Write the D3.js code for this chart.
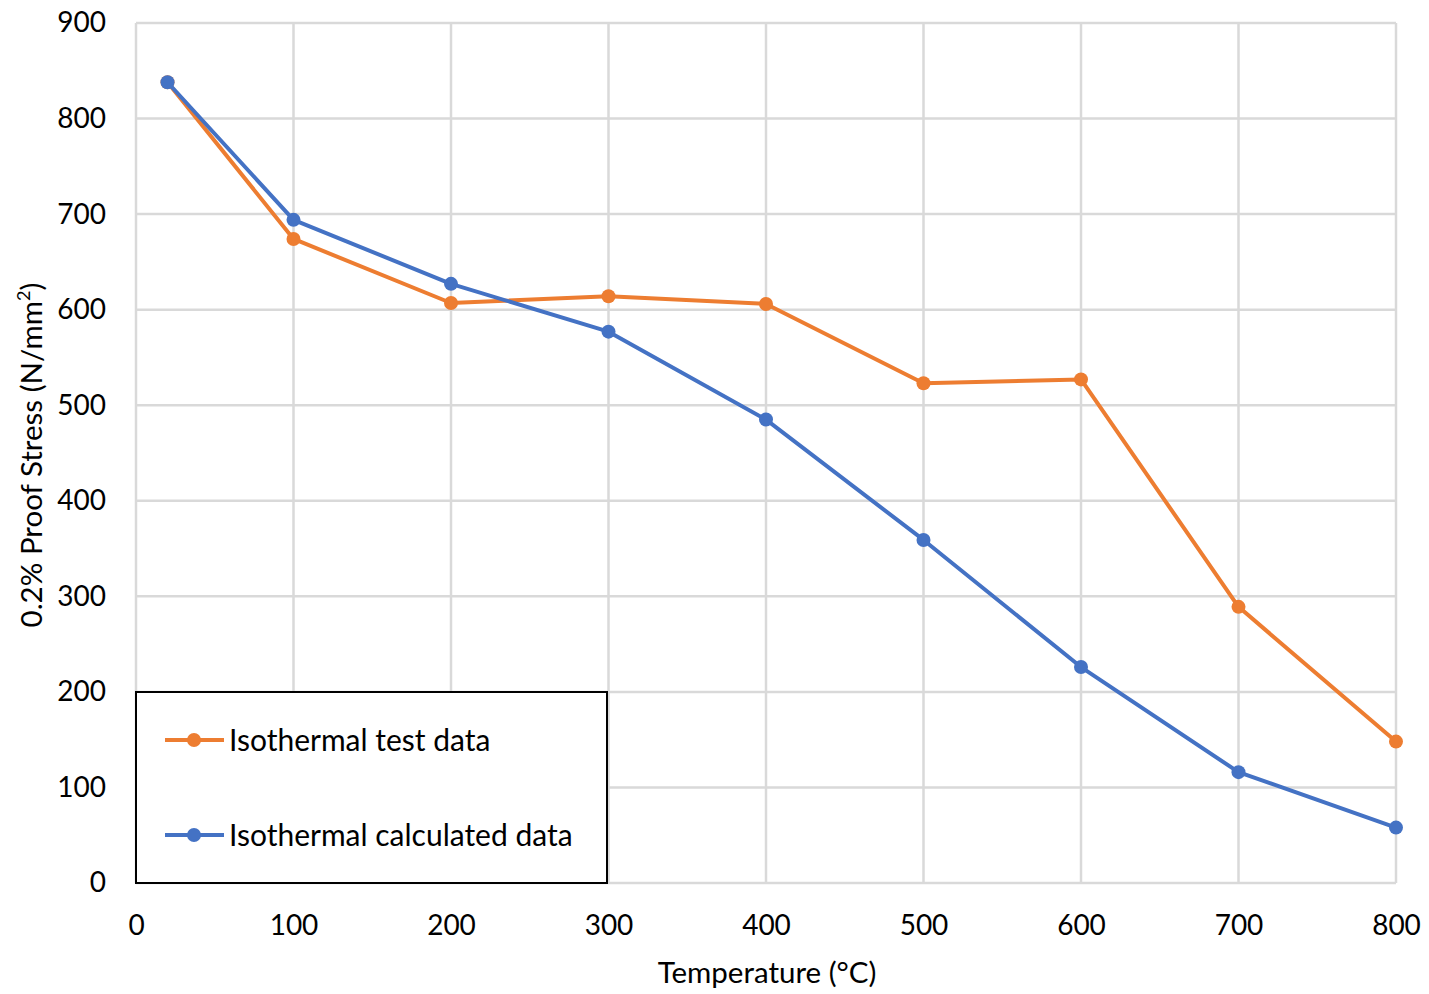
<!DOCTYPE html>
<html>
<head>
<meta charset="utf-8">
<script src="https://cdn.jsdelivr.net/npm/d3@7"></script>
<style>
  html, body { margin: 0; padding: 0; background: #fff; }
  svg text { font-family: Lato, "Open Sans", sans-serif; fill: #000; }
</style>
</head>
<body>
<svg id="chart" width="1429" height="994"></svg>
<script>
// Temperatures (°C)
const temperatures = [20, 100, 200, 300, 400, 500, 600, 700, 800];
// 0.2% proof stress, N/mm²
const testData = [838, 674, 607, 614, 606, 523, 527, 289, 148];
const calculatedData = [838, 694, 627, 577, 485, 359, 226, 116, 58];
const xTicks = [0, 100, 200, 300, 400, 500, 600, 700, 800];
const yTicks = [0, 100, 200, 300, 400, 500, 600, 700, 800, 900];

const series = [
  { name: "Isothermal test data", values: testData, color: "#ED7D31" },
  { name: "Isothermal calculated data", values: calculatedData, color: "#4472C4" }
];

(function () {
  const svg = d3.select("#chart");
  const plotL = 136, plotR = 1396, plotT = 23, plotB = 883;
  const font = "Lato, 'Open Sans', sans-serif";

  const x = d3.scaleLinear().domain([0, 800]).range([plotL, plotR]);
  const y = d3.scaleLinear().domain([0, 900]).range([plotB, plotT]);

  // gridlines
  const grid = svg.append("g");
  grid.selectAll("line.h").data(yTicks).join("line").attr("class", "h")
    .attr("x1", plotL).attr("x2", plotR)
    .attr("y1", d => y(d)).attr("y2", d => y(d))
    .attr("stroke", "#d9d9d9").attr("stroke-width", 2.5);
  grid.selectAll("line.v").data(xTicks).join("line").attr("class", "v")
    .attr("y1", plotT).attr("y2", plotB)
    .attr("x1", d => x(d)).attr("x2", d => x(d))
    .attr("stroke", "#d9d9d9").attr("stroke-width", 2.5);

  // axes (labels only)
  const xAxis = svg.append("g").attr("transform", `translate(0,${plotB})`)
    .call(d3.axisBottom(x).tickValues(xTicks).tickSize(0).tickPadding(32));
  xAxis.select(".domain").remove();
  xAxis.selectAll("text").attr("font-size", 28).attr("fill", "#000")
    .style("font-family", font);

  const yAxis = svg.append("g").attr("transform", `translate(${plotL},0)`)
    .call(d3.axisLeft(y).tickValues(yTicks).tickSize(0).tickPadding(30));
  yAxis.select(".domain").remove();
  yAxis.selectAll("text").attr("font-size", 28).attr("fill", "#000")
    .style("font-family", font);

  // axis titles
  svg.append("text").attr("x", 767).attr("y", 983)
    .attr("text-anchor", "middle").attr("font-size", 29.5).text("Temperature (°C)");

  const yt = svg.append("text").attr("transform", "translate(42,455) rotate(-90)")
    .attr("text-anchor", "middle").attr("font-size", 29.5);
  yt.append("tspan").text("0.2% Proof Stress (N/mm");
  yt.append("tspan").attr("font-size", 18).attr("dy", -12).text("2");
  yt.append("tspan").attr("dy", 12).text(")");

  // series lines and markers
  const line = d3.line().x((d, i) => x(temperatures[i])).y(d => y(d));
  series.forEach(s => {
    const g = svg.append("g");
    g.append("path").datum(s.values).attr("d", line)
      .attr("fill", "none").attr("stroke", s.color).attr("stroke-width", 4)
      .attr("stroke-linejoin", "round");
    g.selectAll("circle").data(s.values).join("circle")
      .attr("cx", (d, i) => x(temperatures[i])).attr("cy", d => y(d))
      .attr("r", 7).attr("fill", s.color);
  });

  // legend
  const lg = svg.append("g");
  lg.append("rect").attr("x", 136).attr("y", 692).attr("width", 471).attr("height", 191)
    .attr("fill", "#fff").attr("stroke", "#000").attr("stroke-width", 2);
  series.forEach((s, i) => {
    const cy = 740 + i * 95;
    lg.append("line").attr("x1", 165).attr("x2", 224).attr("y1", cy).attr("y2", cy)
      .attr("stroke", s.color).attr("stroke-width", 4);
    lg.append("circle").attr("cx", 194).attr("cy", cy).attr("r", 7).attr("fill", s.color);
    lg.append("text").attr("x", 229).attr("y", cy).attr("dy", "0.36em")
      .attr("font-size", 30).text(s.name);
  });
})();
</script>
</body>
</html>
